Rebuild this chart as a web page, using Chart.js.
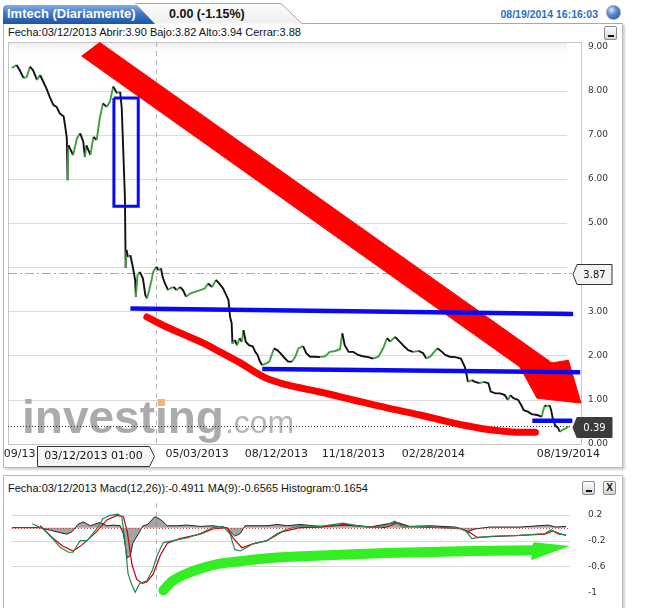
<!DOCTYPE html>
<html lang="es">
<head>
<meta charset="utf-8" />
<title>Imtech (Diariamente)</title>
<script src="https://cdn.jsdelivr.net/npm/chart.js"></script>
<style>
  body { margin: 0; width: 672px; height: 608px; position: relative; overflow: hidden; background: #fff; font-family: "Liberation Sans", Arial, sans-serif; }
  .panel { position: absolute; border: 1px solid #b9b9b9; box-shadow: 2px 2px 2px rgba(0,0,0,0.18); background: #fff; }
  #pricePanel { left: 3px; top: 23px; width: 618px; height: 444px; border-top: none; }
  #macdPanel { left: 3px; top: 475px; width: 618px; height: 150px; }
  #tabs { position: absolute; left: 0; top: 0; }
  .txt { position: absolute; white-space: nowrap; }
  #tabTitle { left: 7px; top: 6px; line-height: 15px; font-size: 13px; font-weight: bold; color: #fff; }
  #change { left: 169px; top: 7px; line-height: 15px; font-size: 12.5px; font-weight: bold; color: #111; }
  #stamp { right: 74px; top: 7px; line-height: 15px; font-size: 10.5px; font-weight: bold; color: #2c6fbf; }
  #globe { position: absolute; left: 606px; top: 5px; width: 13px; height: 13px; border-radius: 50%; border: 1px solid #8a9bb5;
           background: radial-gradient(circle at 35% 30%, #dfe9f7 0, #5d8fd6 38%, #1d4489 100%); }
  .info { font-size: 11px; color: #111; line-height: 14px; }
  #priceInfo { left: 8px; top: 25px; }
  #macdInfo { left: 8px; top: 481px; }
  .btn { position: absolute; width: 11px; height: 12px; border: 1px solid #8c8c8c; border-radius: 2px;
         background: linear-gradient(#ffffff, #d4d4d4); font: bold 10px "Liberation Sans", Arial, sans-serif; text-align: center; line-height: 12px; color: #111; }
  .btn.min::after { content: ""; position: absolute; left: 3px; bottom: 2px; width: 6px; height: 2px; background: #111; }
  #priceMin { left: 604px; top: 26px; }
  #macdMin { left: 582px; top: 481px; }
  #macdClose { left: 603px; top: 481px; }
  canvas { position: absolute; left: 0; }
  #priceChart { top: 0; }
  #macdChart { top: 476px; }
</style>
</head>
<body>

<div class="panel" id="pricePanel"></div>
<div class="panel" id="macdPanel"></div>

<svg id="tabs" width="672" height="30">
  <defs>
    <linearGradient id="tabBlue" x1="0" y1="0" x2="0" y2="1">
      <stop offset="0" stop-color="#86afe4" />
      <stop offset="0.45" stop-color="#3f78c7" />
      <stop offset="1" stop-color="#1b55a3" />
    </linearGradient>
    <linearGradient id="tabGray" x1="0" y1="0" x2="0" y2="1">
      <stop offset="0" stop-color="#fbfbfb" />
      <stop offset="1" stop-color="#f0f0f0" />
    </linearGradient>
  </defs>
  <path d="M135,3.5 H281 L302,23.5 H135 Z" fill="url(#tabGray)" />
  <path d="M135,3.5 H281 L302,23.5 H622.5" fill="none" stroke="#a8a8a8" />
  <path d="M3,24 V9 Q3,5 7,5 H137 L155,24 Z" fill="url(#tabBlue)" />
</svg>

<div class="txt" id="tabTitle">Imtech (Diariamente)</div>
<div class="txt" id="change">0.00 (-1.15%)</div>
<div class="txt" id="stamp">08/19/2014 16:16:03</div>
<div id="globe"></div>

<div class="txt info" id="priceInfo">Fecha:03/12/2013 Abrir:3.90 Bajo:3.82 Alto:3.94 Cerrar:3.88</div>
<div class="btn min" id="priceMin"></div>
<canvas id="priceChart" width="672" height="470"></canvas>

<div class="txt info" id="macdInfo">Fecha:03/12/2013 Macd(12,26)):-0.4911 MA(9):-0.6565 Histogram:0.1654</div>
<div class="btn min" id="macdMin"></div>
<div class="btn" id="macdClose">X</div>
<canvas id="macdChart" width="672" height="132"></canvas>

<script>
  // x values are days counted from 09/13/2012
  const priceDays = [-4,2,6,11,15,19,23,28,32,36,40,45,49,53,57,62,64,66,67,68,
    70,74,79,83,87,89,91,96,100,104,108,112,117,121,125,130,134,136,140,141,
    142,144,147,150,153,154,156,159,163,166,168,171,174,176,180,183,186,188,191,195,
    198,202,206,210,214,218,223,229,236,242,246,251,256,260,265,269,272,274,276,277,
    280,283,286,289,291,294,298,303,306,309,312,315,320,324,327,330,334,338,344,348,
    353,357,361,367,371,376,382,389,395,401,408,414,417,420,425,431,437,443,450,456,
    463,469,474,478,484,490,496,501,507,514,520,524,529,534,538,544,548,554,561,568,
    573,575,577,582,586,592,597,603,606,612,618,624,628,631,635,641,645,648,654,658,
    665,671,673,675,677,681,683,685,688,692,694,698,702,705];
  const priceClose = [8.51,8.58,8.46,8.28,8.31,8.54,8.46,8.24,8.35,8.20,8.05,7.82,7.67,7.63,7.48,7.41,7.18,6.92,5.97,6.76,
    6.69,6.54,6.92,7.03,6.84,6.49,6.76,6.54,6.95,6.88,7.37,7.71,7.63,7.75,8.09,7.94,7.97,7.60,5.59,3.98,
    4.39,4.23,4.27,4.01,3.71,3.33,3.82,3.89,3.74,3.37,3.29,3.48,3.71,3.89,4.01,3.93,3.97,3.78,3.63,3.48,
    3.52,3.55,3.48,3.55,3.48,3.33,3.40,3.44,3.48,3.52,3.63,3.55,3.71,3.63,3.52,3.37,3.25,2.87,2.73,2.27,
    2.35,2.23,2.39,2.31,2.57,2.31,2.23,2.20,2.08,2.01,1.86,1.78,1.82,1.86,2.01,2.16,2.12,2.05,1.93,1.86,
    1.86,1.97,2.16,2.21,2.05,1.97,1.97,1.96,1.98,2.08,2.10,2.14,2.50,2.23,2.08,2.08,2.01,1.98,1.96,1.93,
    1.97,2.16,2.39,2.31,2.42,2.31,2.20,2.12,2.08,2.10,2.05,1.93,1.97,2.08,2.16,2.08,2.01,1.97,1.96,1.93,
    1.74,1.59,1.40,1.44,1.40,1.37,1.40,1.37,1.18,1.14,1.14,1.10,0.99,1.10,1.03,0.99,0.87,0.76,0.72,0.67,
    0.65,0.61,0.76,0.87,0.84,0.87,0.76,0.57,0.42,0.35,0.27,0.32,0.35,0.39];

  const tickDays = [6, 232, 333, 431, 533, 705];
  const tickLabels = ['09/13', '05/03/2013', '08/12/2013', '11/18/2013', '02/28/2014', '08/19/2014'];
  const priceTicks = [0, 1, 2, 3, 4, 5, 6, 7, 8, 9];
  const priceGrid = [1, 2, 3, 4, 5, 6, 7, 8];

  const crossDay = 180;              // 03/12/2013
  const crossLabel = '03/12/2013 01:00';
  const crossPrice = 3.87;
  const lastPrice = 0.39;

  // hand drawn marks, in the chart's own units
  const trendArrowDays = [108, 684, 705, 721, 665, 643, 85, 108];
  const trendArrowPrices = [9.09, 1.83, 1.89, 0.92, 1.03, 1.74, 8.78, 9.09];
  const curveDays = [168, 191, 217, 242, 261, 287, 306, 319, 347, 389, 431, 474, 516, 558, 592, 618, 643, 663];
  const curvePrices = [2.87, 2.66, 2.46, 2.26, 2.08, 1.83, 1.62, 1.49, 1.33, 1.17, 0.99, 0.81, 0.65, 0.47, 0.35, 0.29, 0.26, 0.26];
  const boxDays = [126, 157, 157, 126, 126];
  const boxPrices = [7.83, 7.83, 5.38, 5.38, 7.83];
  const support1Days = [147, 711];
  const support1Prices = [3.06, 2.94];
  const support2Days = [315, 720];
  const support2Prices = [1.69, 1.62];
  const support3Days = [659, 710];
  const support3Prices = [0.52, 0.52];

  // MACD panel
  const macdDays = [22,36,48,57,68,74,83,92,104,112,121,131,136,140,144,149,153,159,168,175,
    181,189,201,219,236,252,265,274,280,287,296,303,321,334,347,363,389,418,440,465,
    484,494,516,541,567,575,582,592,610,643,675,683,692,702];
  const macdValues = [0.06,-0.02,-0.17,-0.30,-0.38,-0.38,-0.20,-0.20,-0.02,0.14,0.19,0.21,0.17,-0.20,-0.71,-0.89,-1.00,-0.86,-0.82,-0.66,
    -0.43,-0.23,-0.20,-0.16,-0.09,0.00,0.02,-0.10,-0.34,-0.36,-0.30,-0.25,-0.20,-0.09,-0.02,0.03,0.02,0.07,0.02,0.00,
    0.10,0.01,0.02,0.00,-0.01,-0.06,-0.17,-0.15,-0.13,-0.12,-0.09,-0.03,-0.10,-0.11];
  const signalDays = [32,48,60,74,85,96,104,117,130,138,143,149,155,162,168,176,185,194,210,236,
    252,270,278,289,303,321,341,363,389,420,446,471,488,501,522,548,569,580,589,605,
    643,675,685,694,702];
  const signalValues = [0.03,-0.16,-0.28,-0.36,-0.27,-0.15,-0.06,0.12,0.19,0.17,-0.06,-0.57,-0.80,-0.86,-0.84,-0.72,-0.43,-0.24,-0.17,-0.10,
    -0.02,0.00,-0.16,-0.31,-0.25,-0.20,-0.06,0.00,0.01,0.05,0.02,0.00,0.08,0.02,0.01,0.00,-0.02,-0.08,-0.15,-0.14,
    -0.12,-0.10,-0.05,-0.09,-0.12];
  const histDays = [-4,32,45,55,66,73,80,87,96,108,117,125,134,138,143,147,150,157,163,169,
    178,185,194,206,219,236,252,270,274,280,287,293,303,321,334,347,363,389,420,452,
    484,503,529,561,569,577,586,605,643,680,688,702];
  const histValues = [0,0,-0.04,-0.07,-0.10,-0.06,0.05,0.09,0.03,0.08,0.03,0.04,0.03,-0.10,-0.47,-0.43,-0.24,-0.10,0.03,0.05,
    0.17,0.13,0.03,0.03,0.04,0.02,0.03,0.00,-0.06,-0.13,-0.09,0.03,0.03,0.03,0.05,0.03,0.05,0.02,0.04,0.01,
    0.08,0.02,0.03,0.01,-0.02,-0.06,-0.02,0.01,0.01,0.04,0.01,0.02];
  const macdTicks = [0.2, -0.2, -0.6, -1];
  const macdGrid = [0.2, -0.2, -0.6];
  const greenArrowDays = [189, 200, 213, 232, 255, 287, 325, 389, 473, 582, 659];
  const greenArrowValues = [-0.97, -0.83, -0.74, -0.65, -0.57, -0.52, -0.47, -0.43, -0.39, -0.36, -0.35];
  const greenHeadDays = [661, 701, 659, 661];
  const greenHeadValues = [-0.24, -0.29, -0.48, -0.24];

  const dayMin = -8.92, dayMax = 722.3;

  const toPoints = (xs, ys) => xs.map((v, i) => ({ x: v, y: ys[i] }));

  Chart.defaults.font.family = '"DejaVu Sans", Verdana, sans-serif';

  function hLine(ctx, x1, x2, y) {
    ctx.beginPath(); ctx.moveTo(x1, y); ctx.lineTo(x2, y); ctx.stroke();
  }

  function priceTag(ctx, tipX, cy, text, fill, stroke, color) {
    const h = 20, bx = tipX + 4, bw = 35;
    ctx.beginPath();
    ctx.moveTo(tipX, cy);
    ctx.lineTo(bx, cy - h / 2);
    ctx.lineTo(bx + bw, cy - h / 2);
    ctx.lineTo(bx + bw, cy + h / 2);
    ctx.lineTo(bx, cy + h / 2);
    ctx.closePath();
    ctx.fillStyle = fill; ctx.fill();
    ctx.strokeStyle = stroke; ctx.lineWidth = 1; ctx.stroke();
    ctx.fillStyle = color;
    ctx.font = '10px "DejaVu Sans"';
    ctx.textAlign = 'center'; ctx.textBaseline = 'middle';
    ctx.fillText(text, bx + bw / 2, cy + 0.5);
  }

  const priceDecor = {
    id: 'priceDecor',
    beforeDatasetsDraw(chart) {
      const { ctx, chartArea: a, scales: { x, y } } = chart;
      ctx.save();
      const g = ctx.createLinearGradient(0, a.top, 0, a.top + 16);
      g.addColorStop(0, '#ececec'); g.addColorStop(1, 'rgba(255,255,255,0)');
      ctx.fillStyle = g; ctx.fillRect(a.left, a.top, a.width - 15, 16);

      ctx.strokeStyle = '#dcdcdc'; ctx.lineWidth = 1;
      priceGrid.forEach(v => hLine(ctx, a.left, a.right - 15, Math.round(y.getPixelForValue(v)) + 0.5));
      ctx.strokeStyle = '#c6c6c6';
      ctx.strokeRect(a.left + 0.5, a.top + 0.5, a.width - 1, a.height - 1);

      // watermark
      const wx = a.left + 14, wy = a.bottom - 12;
      ctx.font = 'bold 46px "Liberation Sans"';
      ctx.textAlign = 'left'; ctx.textBaseline = 'alphabetic';
      ctx.fillStyle = '#ababab';
      ctx.fillText('investing', wx, wy);
      const w = ctx.measureText('investing').width;
      const iStart = wx + ctx.measureText('invest').width;
      const iw = ctx.measureText('i').width;
      ctx.fillStyle = '#f3b668';
      ctx.fillRect(iStart + iw * 0.22, wy - 34, iw * 0.56, 7);
      ctx.font = '32px "Liberation Sans"';
      ctx.fillStyle = '#b5b5b5';
      ctx.fillText('.com', wx + w + 1, wy);

      // crosshair
      const cx = Math.round(x.getPixelForValue(crossDay)) + 0.5;
      ctx.strokeStyle = '#b8b8b8'; ctx.setLineDash([5, 4]);
      ctx.beginPath(); ctx.moveTo(cx, a.top); ctx.lineTo(cx, a.bottom); ctx.stroke();
      ctx.strokeStyle = '#a8a8a8'; ctx.setLineDash([9, 3, 2, 3]);
      hLine(ctx, a.left, a.right - 10, Math.round(y.getPixelForValue(crossPrice)) + 0.5);
      ctx.strokeStyle = '#333'; ctx.setLineDash([1, 2]);
      hLine(ctx, a.left, a.right - 10, Math.round(y.getPixelForValue(lastPrice)) + 0.5);
      ctx.restore();
    },
    afterDraw(chart) {
      const { ctx, chartArea: a, scales: { x, y } } = chart;
      ctx.save();
      priceTag(ctx, a.right - 9, Math.round(y.getPixelForValue(crossPrice)) + 1.5, crossPrice.toFixed(2), '#f3f3f3', '#333', '#111');
      priceTag(ctx, a.right - 9, Math.round(y.getPixelForValue(lastPrice)) + 1.5, lastPrice.toFixed(2), '#3b3b3b', '#3b3b3b', '#fff');

      const tip = Math.round(x.getPixelForValue(crossDay)) - 1.5;
      const top = a.bottom + 1.5, bot = a.bottom + 21.5, left = tip - 117;
      ctx.beginPath();
      ctx.moveTo(left, top); ctx.lineTo(tip - 5, top); ctx.lineTo(tip, (top + bot) / 2);
      ctx.lineTo(tip - 5, bot); ctx.lineTo(left, bot); ctx.closePath();
      ctx.fillStyle = '#f6f6f6'; ctx.fill();
      ctx.strokeStyle = '#333'; ctx.lineWidth = 1; ctx.stroke();
      ctx.fillStyle = '#111'; ctx.font = '11px "DejaVu Sans"';
      ctx.textAlign = 'center'; ctx.textBaseline = 'middle';
      ctx.fillText(crossLabel, (left + tip - 5) / 2, (top + bot) / 2);
      ctx.restore();
    }
  };

  new Chart(document.getElementById('priceChart'), {
    type: 'line',
    data: {
      datasets: [
        { label: 'Soporte 1', data: toPoints(support1Days, support1Prices), borderColor: '#0a0af2', borderWidth: 4.5, order: 0 },
        { label: 'Soporte 2', data: toPoints(support2Days, support2Prices), borderColor: '#0a0af2', borderWidth: 4.5, order: 0 },
        { label: 'Soporte 3', data: toPoints(support3Days, support3Prices), borderColor: '#0a0af2', borderWidth: 4.5, order: 0 },
        { label: 'Caja', data: toPoints(boxDays, boxPrices), borderColor: '#0a0af2', borderWidth: 3, order: 0 },
        {
          label: 'Imtech', data: toPoints(priceDays, priceClose), borderColor: '#111', borderWidth: 1.9, order: 1,
          segment: { borderColor: c => c.p1.parsed.y > c.p0.parsed.y ? '#3f9f3f' : '#111111' }
        },
        { label: 'Tendencia', data: toPoints(trendArrowDays, trendArrowPrices), fill: 'shape', backgroundColor: '#ff0000', borderColor: '#ff0000', borderWidth: 1, order: 2 },
        { label: 'Curva', data: toPoints(curveDays, curvePrices), borderColor: '#ff0000', borderWidth: 7, cubicInterpolationMode: 'monotone', borderCapStyle: 'round', order: 3 }
      ]
    },
    options: {
      responsive: false,
      animation: false,
      events: [],
      layout: { padding: { left: 8, top: 42, right: 50, bottom: 5 } },
      elements: { point: { radius: 0 }, line: { tension: 0 } },
      plugins: { legend: { display: false }, tooltip: { enabled: false } },
      scales: {
        x: {
          type: 'linear', min: dayMin, max: dayMax,
          grid: { display: false, drawTicks: false }, border: { display: false },
          afterBuildTicks: s => { s.ticks = tickDays.map(v => ({ value: v })); },
          afterFit: s => { s.height = 20; },
          ticks: { autoSkip: false, maxRotation: 0, minRotation: 0, padding: 3, color: '#222', font: { size: 11 },
                   callback: (v, i) => tickLabels[i] }
        },
        y: {
          position: 'right', min: -0.03, max: 9.1,
          grid: { display: false, drawTicks: false }, border: { display: false },
          afterBuildTicks: s => { s.ticks = priceTicks.map(v => ({ value: v })); },
          afterFit: s => { s.width = 40; },
          // the label under the crosshair tag is not shown
          ticks: { autoSkip: false, padding: 6, color: '#333', font: { size: 9 },
                   callback: v => (Math.abs(v - crossPrice) < 0.3 ? '' : v.toFixed(2)) }
        }
      }
    },
    plugins: [priceDecor]
  });

  const macdDecor = {
    id: 'macdDecor',
    beforeDatasetsDraw(chart) {
      const { ctx, chartArea: a, scales: { x, y } } = chart;
      ctx.save();
      ctx.strokeStyle = '#d8d8d8'; ctx.lineWidth = 1;
      macdGrid.forEach(v => hLine(ctx, a.left + 4, a.right - 12, Math.round(y.getPixelForValue(v)) + 0.5));
      const cx = Math.round(x.getPixelForValue(crossDay)) + 0.5;
      ctx.strokeStyle = '#b8b8b8'; ctx.setLineDash([5, 4]);
      ctx.beginPath(); ctx.moveTo(cx, a.top); ctx.lineTo(cx, a.bottom); ctx.stroke();
      ctx.restore();
    },
    afterDatasetsDraw(chart) {
      const { ctx, chartArea: a, scales: { y } } = chart;
      ctx.save();
      ctx.strokeStyle = '#e03a3a'; ctx.lineWidth = 1; ctx.setLineDash([1, 2]);
      hLine(ctx, a.left + 4, a.right - 12, Math.round(y.getPixelForValue(0)) + 0.5);
      ctx.restore();
    }
  };

  new Chart(document.getElementById('macdChart'), {
    type: 'line',
    data: {
      datasets: [
        { label: 'Flecha', data: toPoints(greenArrowDays, greenArrowValues), borderColor: '#33ee22', borderWidth: 10, cubicInterpolationMode: 'monotone', borderCapStyle: 'round', order: 0 },
        { label: 'Punta', data: toPoints(greenHeadDays, greenHeadValues), fill: 'shape', backgroundColor: '#33ee22', borderColor: '#33ee22', borderWidth: 2, order: 0 },
        { label: 'Macd(12,26)', data: toPoints(macdDays, macdValues), borderColor: '#1f8a50', borderWidth: 1.2, order: 1 },
        { label: 'MA(9)', data: toPoints(signalDays, signalValues), borderColor: '#c4000a', borderWidth: 1.2, order: 2 },
        { label: 'Histogram', data: toPoints(histDays, histValues), borderColor: '#222', borderWidth: 1, fill: 'origin', backgroundColor: 'rgba(125,125,125,0.7)', order: 3 }
      ]
    },
    options: {
      responsive: false,
      animation: false,
      events: [],
      layout: { padding: { left: 8, top: 27, right: 50, bottom: 0 } },
      elements: { point: { radius: 0 }, line: { tension: 0 } },
      plugins: { legend: { display: false }, tooltip: { enabled: false } },
      scales: {
        x: { type: 'linear', min: dayMin, max: dayMax, display: false },
        y: {
          position: 'right', min: -1.066, max: 0.382,
          grid: { display: false, drawTicks: false }, border: { display: false },
          afterBuildTicks: s => { s.ticks = macdTicks.map(v => ({ value: v })); },
          afterFit: s => { s.width = 40; },
          ticks: { autoSkip: false, padding: 6, color: '#333', font: { size: 9 }, callback: v => (v === -1 ? '-1' : v.toFixed(1)) }
        }
      }
    },
    plugins: [macdDecor]
  });
</script>
</body>
</html>
